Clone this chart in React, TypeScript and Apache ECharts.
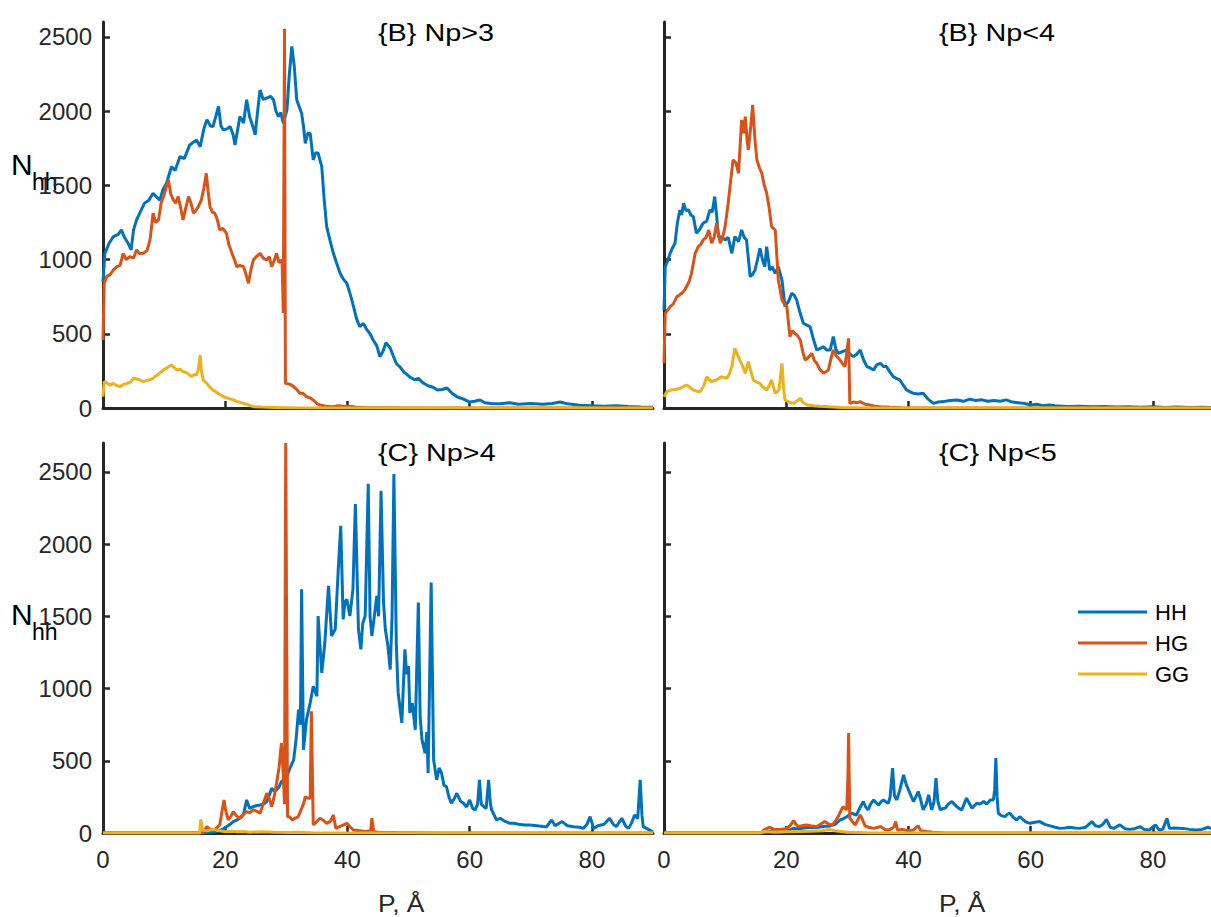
import React, { useEffect, useRef } from "react";
import * as echarts from "echarts";

// ---------- data (P in Å, N_hh counts) ----------
const panelTitles = ["{B} Np>3", "{B} Np<4", "{C} Np>4", "{C} Np<5"];
const seriesNames = ["HH", "HG", "GG"];
const xTicks = [0, 20, 40, 60, 80];
const yTicks = [0, 500, 1000, 1500, 2000, 2500];
const yMaxTop = 2600;
const yMaxBottom = 2700;
const xAxisTitle = "P, Å";

const tlHH = [[0,850],[0.3,1040],[1,1110],[1.7,1155],[2.5,1170],[3,1200],[3.5,1150],[4.1,1110],[4.6,1065],[5,1200],[5.5,1267],[6.2,1330],[6.8,1380],[7.5,1400],[8.2,1447],[8.8,1420],[9.3,1400],[9.8,1470],[10.4,1514],[11.2,1626],[11.8,1600],[12.6,1694],[13.3,1680],[14.2,1772],[15.3,1806],[15.9,1760],[16.5,1880],[17,1941],[17.6,1900],[18,1896],[18.9,2031],[19.3,1900],[19.7,1873],[20.3,1880],[20.8,1896],[21.3,1840],[21.6,1772],[22.4,1963],[23,1920],[23.5,2076],[24,1960],[24.5,1900],[24.9,1840],[25.3,2000],[25.7,2143],[26.2,2080],[26.8,2087],[27.4,2100],[27.9,2076],[28.3,2000],[28.7,1963],[29.1,1990],[29.5,1918],[30.1,2008],[30.5,2250],[30.9,2435],[31.3,2300],[31.7,2076],[32.1,2030],[32.5,1986],[32.8,1900],[33.1,1783],[33.5,1850],[33.9,1851],[34.4,1671],[34.8,1720],[35.2,1716],[35.8,1626],[36.2,1400],[36.6,1222],[37.2,1120],[37.7,1042],[38.2,980],[38.8,907],[39.3,870],[39.9,840],[40.5,760],[41,683],[41.5,600],[42,548],[42.6,570],[43.2,526],[43.7,500],[44.2,458],[44.8,420],[45.3,346],[45.8,380],[46.3,440],[47,404],[47.5,350],[48,300],[48.6,276],[49.3,240],[50.2,209],[51,190],[51.6,200],[52.4,168],[53.2,150],[54,140],[54.7,121],[55.5,125],[56.3,135],[57.1,100],[58,74],[59,60],[60,40],[60.8,45],[61.7,54],[62.5,35],[63.5,30],[65,28],[66.5,35],[68,25],[70,30],[72,25],[73.5,30],[74.8,40],[76,28],[78,18],[80,15],[82,12],[84,15],[86,10],[88,6],[90,5]];
const tlHG = [[0,458],[0.2,840],[0.6,885],[1.2,900],[1.7,930],[2.2,950],[2.8,960],[3.3,1042],[3.8,1000],[4.4,1020],[5,1010],[5.5,1065],[6,1040],[6.6,1042],[7.2,1060],[7.7,1132],[8.2,1312],[8.6,1250],[9.1,1267],[9.5,1380],[9.9,1424],[10.3,1480],[10.7,1536],[11.1,1440],[11.5,1402],[11.9,1380],[12.3,1424],[12.7,1350],[13.1,1267],[13.5,1340],[14,1424],[14.4,1380],[14.8,1312],[15.2,1330],[15.6,1357],[16.1,1402],[16.5,1480],[16.9,1581],[17.2,1460],[17.5,1357],[17.9,1320],[18.3,1312],[18.7,1270],[19.1,1200],[19.6,1210],[20.2,1177],[20.6,1100],[21.1,1042],[21.5,1000],[21.9,952],[22.4,960],[23,952],[23.4,900],[23.8,840],[24.2,930],[24.6,997],[25.1,1020],[25.7,1042],[26.2,1010],[26.8,997],[27.2,1020],[27.6,952],[28,990],[28.4,1042],[28.8,980],[29.3,997],[29.5,640],[29.7,2555],[29.85,166],[30.6,160],[31.2,144],[31.7,125],[32.2,99],[32.7,100],[33.3,76],[33.8,70],[34.4,54],[35,30],[35.5,20],[36.5,12],[37.5,8],[38.5,15],[39.5,10],[40.5,12],[41.5,5],[43,3],[46,2],[50,0],[90,0]];
const tlGG = [[0,76],[0.2,177],[0.6,170],[1.1,155],[1.7,165],[2.3,150],[2.8,144],[3.4,160],[4,166],[4.5,175],[5,200],[5.5,195],[6,190],[6.6,177],[7.1,185],[7.6,190],[8.2,200],[8.8,220],[9.4,240],[9.9,256],[10.4,270],[10.8,280],[11.2,290],[11.7,270],[12.1,256],[12.6,262],[13.1,245],[13.6,240],[14.1,225],[14.5,211],[14.9,225],[15.3,222],[15.6,260],[15.9,357],[16.1,250],[16.4,189],[17,165],[17.5,140],[18,121],[18.8,100],[19.7,76],[20.5,65],[21.3,54],[22.2,40],[23,31],[23.8,20],[24.6,9],[26,6],[28,4],[30,2],[32,0],[90,0]];

const trHH = [[0,660],[0.2,952],[0.6,990],[1,1042],[1.4,1080],[1.8,1110],[2.2,1250],[2.6,1334],[2.9,1300],[3.2,1379],[3.6,1330],[4,1334],[4.4,1300],[4.8,1289],[5.3,1177],[5.8,1200],[6.4,1244],[7,1260],[7.5,1334],[7.9,1320],[8.3,1424],[8.6,1300],[8.9,1155],[9.5,1150],[10,1132],[10.5,1150],[11.1,1042],[11.6,1155],[12.2,1120],[12.7,1199],[13.1,1150],[13.5,1132],[14.1,885],[14.5,900],[14.9,930],[15.3,1000],[15.7,1076],[16.1,1000],[16.5,952],[16.8,1087],[17.3,930],[17.7,950],[18.2,907],[18.7,952],[19.3,862],[19.8,683],[20.4,720],[20.9,773],[21.3,760],[21.7,728],[22.2,650],[22.8,571],[23.3,560],[23.9,548],[24.4,470],[25,391],[25.5,400],[26.1,413],[26.6,390],[27.2,391],[27.7,481],[28.1,400],[28.5,368],[29.2,380],[29.9,391],[30.5,360],[31,346],[31.5,360],[32.1,391],[32.6,330],[33.2,279],[33.7,270],[34.3,256],[34.8,290],[35.4,301],[35.9,280],[36.4,279],[37,240],[37.5,211],[38,200],[38.6,189],[39.2,150],[39.7,121],[40.2,110],[40.8,99],[41.6,95],[42.4,99],[43.2,60],[44.1,31],[44.9,40],[45.7,43],[46.8,50],[47.9,54],[49,45],[50,60],[51,50],[52,55],[53,45],[54,50],[55,45],[56,55],[57,40],[58,35],[59,30],[60,20],[61,25],[62,15],[63,20],[64,15],[66,10],[68,12],[70,8],[72,10],[74,6],[76,8],[78,5],[80,8],[82,4],[84,6],[86,3],[88,5],[89.5,3]];
const trHG = [[0,301],[0.2,638],[0.6,660],[1,683],[1.5,700],[2.1,750],[2.5,760],[2.9,773],[3.3,790],[3.7,818],[4.1,850],[4.5,907],[5.1,1042],[5.6,1087],[6,1100],[6.4,1132],[6.9,1150],[7.3,1199],[7.8,1110],[8.2,1150],[8.6,1244],[9.2,1110],[9.6,1150],[10,1222],[10.5,1379],[10.8,1491],[11.3,1671],[11.8,1650],[12.2,1581],[12.7,1941],[13,1850],[13.3,1963],[13.6,1800],[13.8,1739],[14.2,1900],[14.5,2042],[14.9,1800],[15.2,1671],[15.6,1620],[16,1581],[16.4,1500],[16.8,1447],[17.2,1350],[17.6,1222],[18.2,1199],[18.5,1000],[18.7,862],[19,800],[19.3,728],[19.7,700],[20.1,683],[20.4,560],[20.6,481],[21,520],[21.4,503],[21.8,490],[22.3,458],[22.7,380],[23.1,323],[23.6,340],[24.2,368],[24.6,320],[25,301],[25.5,260],[26.1,234],[26.5,245],[26.9,256],[27.3,330],[27.7,391],[28.2,350],[28.8,323],[29.2,300],[29.6,279],[30.2,469],[30.4,31],[31,40],[31.6,35],[32.1,43],[32.9,25],[33.7,20],[34.5,12],[35.5,8],[37,5],[39,2],[42,0],[89.5,0]];
const trGG = [[0,76],[0.5,110],[1.1,121],[1.8,125],[2.6,132],[3.2,145],[3.7,155],[4.2,140],[4.8,121],[5.3,115],[5.9,110],[6.5,150],[7,211],[7.4,190],[7.8,177],[8.2,185],[8.6,189],[9,200],[9.4,211],[9.9,205],[10.3,200],[10.7,230],[11.1,279],[11.6,402],[12,360],[12.4,323],[12.9,280],[13.3,234],[13.8,312],[14.2,250],[14.6,189],[15.1,175],[15.7,166],[16.2,140],[16.8,121],[17.2,150],[17.6,189],[18.2,99],[18.8,120],[19.3,301],[19.6,120],[19.8,54],[20.5,40],[21.2,31],[21.7,45],[22.3,65],[22.8,35],[23.4,20],[24.5,15],[25.5,12],[27,8],[29,4],[31,2],[33,0],[89.5,0]];

const blHH = [[0,0],[16.5,0],[17.5,5],[18.5,10],[19.5,25],[20.2,44],[20.8,60],[21.3,79],[21.9,90],[22.4,102],[23,130],[23.5,229],[24,170],[24.6,183],[25.2,190],[25.7,194],[26.3,200],[26.8,218],[27.2,260],[27.6,310],[28,290],[28.4,299],[28.8,320],[29.2,356],[29.7,370],[30.1,391],[30.6,450],[31.2,507],[31.6,650],[32,854],[32.3,750],[32.5,1688],[32.8,576],[33.3,785],[33.9,900],[34.4,1016],[35,947],[35.2,1502],[35.5,1300],[35.8,1109],[36.3,1317],[36.9,1711],[37.4,1364],[38,1410],[38.5,1826],[38.9,2127],[39.3,1479],[39.6,1600],[39.9,1618],[40.4,1502],[40.9,1688],[41.3,2278],[41.8,1410],[42.2,1271],[42.5,1450],[42.9,1502],[43.4,2417],[43.7,1500],[44,1364],[44.4,1500],[44.8,1641],[45.1,1500],[45.5,2370],[45.9,1600],[46.2,1410],[46.6,1300],[47,1132],[47.3,1500],[47.6,2486],[48,1300],[48.3,970],[48.9,762],[49.4,1271],[49.7,1100],[50,1155],[50.2,831],[50.6,900],[51.1,715],[51.6,1595],[51.9,800],[52.2,646],[52.7,553],[53,700],[53.2,414],[53.7,1734],[54.1,507],[54.6,368],[55,450],[55.4,414],[55.8,330],[56.2,322],[56.6,250],[57,206],[57.5,240],[57.9,275],[58.5,220],[59,206],[59.5,180],[60,229],[60.5,170],[60.9,160],[61.3,200],[61.6,368],[61.9,200],[62.3,183],[62.7,170],[63.1,368],[63.4,200],[63.6,160],[64.4,90],[65,102],[65.8,80],[66.6,67],[67.2,67],[68,60],[69,55],[69.9,55],[71,50],[72,45],[72.6,44],[73.4,90],[74,50],[75.1,79],[76,50],[77,44],[78,40],[78.6,32],[79.2,60],[79.7,113],[80.3,32],[81,50],[82,60],[82.9,102],[83.5,60],[84,44],[84.9,102],[85.5,50],[86,32],[86.5,70],[87,125],[87.5,100],[87.9,368],[88.2,120],[88.4,44],[89,30],[89.5,20],[90,5]];
const blHG = [[0,0],[16.3,0],[17,44],[17.8,16],[18.5,30],[19.1,55],[19.8,229],[20.1,150],[20.5,90],[21,120],[21.3,148],[21.8,120],[22.4,102],[23,130],[23.5,148],[24,140],[24.6,160],[25.2,150],[25.7,137],[26.2,200],[26.8,275],[27.2,240],[27.6,183],[28,250],[28.4,345],[28.8,450],[29.2,623],[29.5,400],[29.7,200],[29.9,2700],[30.2,113],[30.5,113],[31,90],[31.4,102],[31.9,110],[32.4,160],[32.8,200],[33.1,252],[33.5,240],[33.9,240],[34.1,843],[34.4,55],[35,80],[35.5,102],[36,90],[36.6,67],[37.2,80],[37.7,125],[38.1,32],[39,50],[39.9,67],[40.5,40],[41,20],[42,15],[43,10],[43.8,15],[44,102],[44.3,10],[45,5],[48,3],[55,0],[90,0]];
const blGG = [[0,0],[15.8,0],[16,95],[16.3,20],[17,15],[18,25],[19,15],[20,10],[21,12],[22,8],[23,10],[24,5],[26,8],[28,5],[30,3],[32,5],[34,2],[36,0],[90,0]];

const brHH = [[0,0],[16,0],[17,10],[18,15],[19,20],[20.6,20],[21.2,32],[22,30],[23,35],[23.9,40],[25,38],[26,45],[27.2,49],[28,60],[28.8,90],[29.4,100],[29.9,113],[30.3,125],[30.7,137],[31.1,130],[31.5,125],[32,170],[32.6,218],[33,180],[33.4,160],[33.8,200],[34.3,229],[34.7,210],[35.1,194],[35.5,215],[35.9,229],[36.3,215],[36.7,206],[37,250],[37.4,449],[37.7,260],[38.1,229],[38.6,300],[39.2,403],[39.6,340],[40,299],[40.4,260],[40.8,218],[41.2,250],[41.6,287],[42,230],[42.4,160],[42.9,200],[43.3,264],[43.6,200],[43.8,160],[44.2,220],[44.5,380],[44.8,220],[45.2,160],[45.6,170],[46,171],[46.5,200],[47.1,218],[47.5,200],[47.9,183],[48.3,170],[48.7,160],[49.1,200],[49.5,241],[49.9,210],[50.4,171],[50.8,190],[51.2,206],[51.7,200],[52.3,218],[52.8,200],[53.4,229],[53.9,229],[54.1,300],[54.3,519],[54.5,250],[54.7,137],[55.2,120],[55.8,113],[56.2,130],[56.6,137],[57.1,110],[57.7,90],[58.2,113],[58.8,90],[59.3,75],[59.9,67],[60.7,75],[61.5,79],[62.3,60],[63.2,49],[64,40],[64.8,32],[65.6,35],[66.4,40],[67.2,35],[68,32],[69,40],[70,79],[70.6,50],[71.2,44],[71.8,60],[72.4,95],[73,40],[73.6,32],[74.6,56],[75.4,30],[76.2,25],[77,30],[77.9,44],[78.6,25],[79.4,21],[80.4,56],[81,21],[81.6,25],[82.3,102],[82.7,32],[83.5,35],[84.9,32],[86,25],[87,21],[88,25],[89,40],[89.5,30]];
const brHG = [[0,0],[16,0],[16.3,20],[17.3,40],[18,25],[19,25],[20,30],[20.6,50],[21.2,86],[21.6,60],[22,44],[22.6,50],[23.3,56],[24,50],[25,44],[25.6,60],[26.3,79],[27,60],[27.5,56],[28,80],[28.5,113],[28.9,150],[29.3,183],[29.6,170],[29.9,160],[30.1,400],[30.2,692],[30.4,102],[30.8,80],[31.3,56],[31.7,90],[32.1,125],[32.5,90],[32.9,49],[33.5,40],[34.3,32],[35,40],[35.5,44],[36.3,21],[37,25],[37.6,40],[37.9,79],[38.2,21],[39,25],[40,16],[40.8,20],[41.3,40],[41.6,49],[42,16],[43,10],[44,5],[46,0],[89.5,0]];
const brGG = [[0,0],[15.5,0],[16.5,10],[18,5],[20,8],[22,10],[24,12],[26,15],[27,25],[28,15],[29,10],[30,5],[32,3],[34,0],[89.5,0]];

const panelData = [
  [tlHH, tlHG, tlGG],
  [trHH, trHG, trGG],
  [blHH, blHG, blGG],
  [brHH, brHG, brGG],
];

// ---------- styling / layout ----------
const COLORS = ["#0072BD", "#D95319", "#EDB120"];
const AX = "#262626";
const FONT = "'Liberation Sans', Arial, Helvetica, sans-serif";
const GRIDS = [
  { left: 103, top: 22, width: 550, height: 386, xMax: 90, yMax: yMaxTop, xLab: false, yLab: true },
  { left: 664, top: 22, width: 547, height: 386, xMax: 89.5, yMax: yMaxTop, xLab: false, yLab: false },
  { left: 103, top: 443, width: 550, height: 390, xMax: 90, yMax: yMaxBottom, xLab: true, yLab: true },
  { left: 664, top: 443, width: 547, height: 390, xMax: 89.5, yMax: yMaxBottom, xLab: true, yLab: false },
];

export default function App() {
  const ref = useRef<HTMLDivElement>(null);
  useEffect(() => {
    if (!ref.current) return;
    const chart = echarts.init(ref.current, null, { renderer: "svg" });

    const plain = (v: number) => String(v);
    const grid = GRIDS.map((g) => ({ left: g.left, top: g.top, width: g.width, height: g.height }));
    const xAxis = GRIDS.map((g, i) => ({
      type: "value",
      gridIndex: i,
      min: 0,
      max: g.xMax,
      axisLine: { show: true, onZero: false, lineStyle: { color: AX, width: 3 } },
      axisTick: { show: true, inside: true, length: 7, customValues: xTicks.slice(1), lineStyle: { color: AX, width: 2.5 } },
      axisLabel: { show: g.xLab, customValues: xTicks, formatter: plain, fontSize: 24, color: AX, fontFamily: FONT, margin: 14 },
      splitLine: { show: false },
    }));
    const yAxis = GRIDS.map((g, i) => ({
      type: "value",
      gridIndex: i,
      min: 0,
      max: g.yMax,
      axisLine: { show: true, onZero: false, lineStyle: { color: AX, width: 3 } },
      axisTick: { show: true, inside: true, length: 7, customValues: yTicks.slice(1), lineStyle: { color: AX, width: 2.5 } },
      axisLabel: { show: g.yLab, customValues: yTicks, formatter: plain, fontSize: 24, color: AX, fontFamily: FONT, margin: 11 },
      splitLine: { show: false },
    }));
    const series: any[] = [];
    panelData.forEach((arrs, p) => {
      arrs.forEach((d, s) => {
        series.push({
          type: "line",
          name: seriesNames[s],
          xAxisIndex: p,
          yAxisIndex: p,
          data: d,
          symbol: "none",
          showSymbol: false,
          clip: true,
          lineStyle: { color: COLORS[s], width: 3 },
          itemStyle: { color: COLORS[s] },
          emphasis: { disabled: true },
          z: 2 + s,
        });
      });
    });

    const titlePos = [
      [378, 33],
      [939, 33],
      [378, 453],
      [939, 453],
    ];
    const graphic: any[] = [];
    panelTitles.forEach((t, i) => {
      graphic.push({
        type: "text",
        x: titlePos[i][0],
        y: titlePos[i][1],
        scaleX: 1.2,
        style: { text: t, fontSize: 24, fontFamily: FONT, fill: "#000", align: "left", verticalAlign: "middle" },
      });
    });
    [[164, 181.5], [614, 632]].forEach(([yn, yh]) => {
      graphic.push({
        type: "text", x: 11, y: yn,
        style: { text: "N", fontSize: 30, fontFamily: FONT, fill: "#000", align: "left", verticalAlign: "middle" },
      });
      graphic.push({
        type: "text", x: 32, y: yh,
        style: { text: "hh", fontSize: 23, fontFamily: FONT, fill: "#000", align: "left", verticalAlign: "middle" },
      });
    });
    [378, 939].forEach((x) => {
      graphic.push({
        type: "text", x, y: 903,
        scaleX: 1.1,
        style: { text: xAxisTitle, fontSize: 24, fontFamily: FONT, fill: AX, align: "left", verticalAlign: "middle" },
      });
    });

    chart.setOption({
      animation: false,
      backgroundColor: "#fff",
      grid,
      xAxis,
      yAxis,
      series,
      legend: {
        data: seriesNames,
        orient: "vertical",
        left: 1073,
        top: 596,
        icon: "rect",
        itemWidth: 69,
        itemHeight: 3,
        itemGap: 9,
        selectedMode: false,
        textStyle: { fontSize: 22, fontFamily: FONT, color: "#000", lineHeight: 22, padding: [0, 0, 0, 3] },
      },
      graphic,
    });
    return () => chart.dispose();
  }, []);

  return (
    <div
      ref={ref}
      style={{ position: "fixed", left: 0, top: 0, width: 1211, height: 917, background: "#fff" }}
    />
  );
}
